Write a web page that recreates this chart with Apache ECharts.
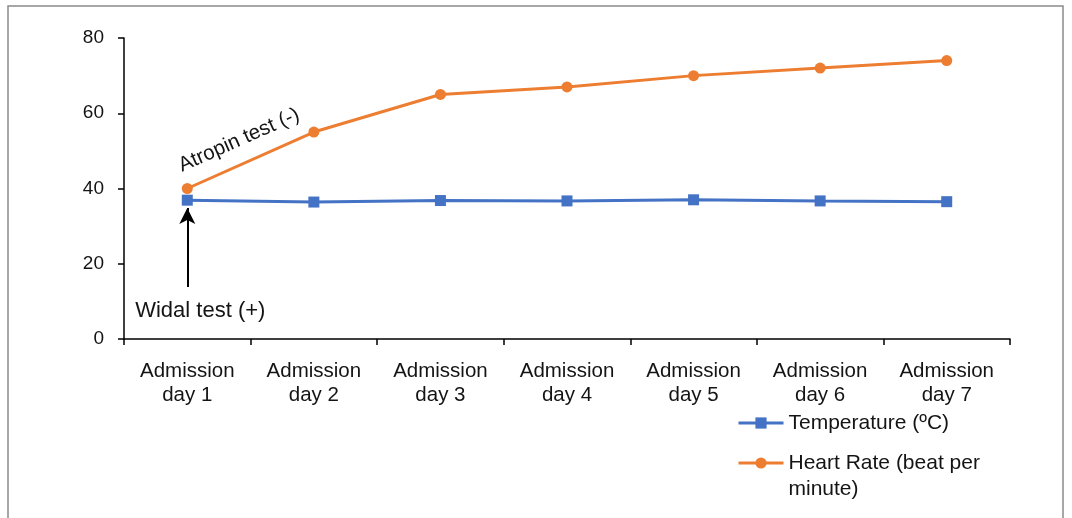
<!DOCTYPE html>
<html>
<head>
<meta charset="utf-8">
<script src="https://cdn.jsdelivr.net/npm/echarts@6/dist/echarts.min.js"></script>
<style>
  html, body { margin: 0; padding: 0; background: #fff; }
  #chart { width: 1072px; height: 518px; }
</style>
</head>
<body>
<div id="chart"></div>
<script>
// Daily observations during admission
const categories = ['Admission\nday 1', 'Admission\nday 2', 'Admission\nday 3', 'Admission\nday 4',
                    'Admission\nday 5', 'Admission\nday 6', 'Admission\nday 7'];
const temperature = [36.9, 36.4, 36.8, 36.7, 37.0, 36.7, 36.5];
const heartRate = [40, 55, 65, 67, 70, 72, 74];
const yTicks = { min: 0, max: 80, interval: 20 };

const TEMP_NAME = 'Temperature (ºC)';
const HR_NAME = 'Heart Rate (beat per minute)';
const FONT = 'Liberation Sans, Arial, sans-serif';
const TEXT = '#141414';

const legendText = { fontFamily: FONT, fontSize: 21, color: TEXT, lineHeight: 24 };
const legendBase = {
  orient: 'vertical',
  left: 732,
  itemWidth: 45,
  itemHeight: 14,
  padding: 5,
  lineStyle: { width: 3 }
};

const chart = echarts.init(document.getElementById('chart'));

chart.setOption({
  animation: false,
  textStyle: { fontFamily: FONT },
  graphic: [{
    type: 'rect',
    shape: { x: 8, y: 6, width: 1055, height: 600 },
    style: { fill: 'none', stroke: '#8a8a8a', lineWidth: 1.5 },
    silent: true
  }],
  grid: { left: 124, right: 62, top: 38, bottom: 179 },
  legend: [
    Object.assign({}, legendBase, {
      top: 406,
      textStyle: legendText,
      data: [TEMP_NAME]
    }),
    Object.assign({}, legendBase, {
      top: 419,
      textStyle: Object.assign({}, legendText, { lineHeight: 26 }),
      data: [HR_NAME],
      // an empty leading line keeps the icon level with the first line of the wrapped name
      formatter: function () { return ' \nHeart Rate (beat per\nminute)'; }
    })
  ],
  xAxis: {
    type: 'category',
    data: categories,
    boundaryGap: true,
    axisLine: { lineStyle: { color: '#000', width: 1.5 } },
    axisTick: { show: true, length: 6, lineStyle: { color: '#000', width: 1.5 } },
    axisLabel: { fontFamily: FONT, fontSize: 20.5, color: TEXT, lineHeight: 24, margin: 20 }
  },
  yAxis: {
    type: 'value',
    min: yTicks.min,
    max: yTicks.max,
    interval: yTicks.interval,
    splitLine: { show: false },
    axisLine: { show: true, lineStyle: { color: '#000', width: 1.5 } },
    axisTick: { show: true, length: 6, lineStyle: { color: '#000', width: 1.5 } },
    axisLabel: { fontFamily: FONT, fontSize: 19, color: TEXT, margin: 20 }
  },
  series: [
    {
      name: HR_NAME,
      type: 'line',
      data: heartRate,
      symbol: 'circle',
      symbolSize: 11,
      color: '#ED7D31',
      lineStyle: { width: 3 },
      z: 2,
      markPoint: {
        symbol: 'circle',
        symbolSize: 0,
        data: [{
          coord: [0, heartRate[0]],
          label: {
            show: true,
            formatter: 'Atropin test (-)',
            fontFamily: FONT,
            fontSize: 20.5,
            color: TEXT,
            rotate: 24,
            offset: [67, -23]
          }
        }]
      }
    },
    {
      name: TEMP_NAME,
      type: 'line',
      data: temperature,
      symbol: 'rect',
      symbolSize: 11,
      color: '#4472C4',
      lineStyle: { width: 3 },
      z: 3,
      markLine: {
        silent: true,
        symbol: ['none', 'arrow'],
        symbolSize: [12, 16],
        lineStyle: { color: '#000', width: 2, type: 'solid' },
        label: { show: false },
        data: [[{ coord: [0, 13.8] }, { coord: [0, 34.8] }]]
      },
      markPoint: {
        symbol: 'circle',
        symbolSize: 0,
        data: [{
          coord: [0, 7.5],
          label: {
            show: true,
            formatter: 'Widal test (+)',
            fontFamily: FONT,
            fontSize: 22,
            color: TEXT,
            offset: [13, 0]
          }
        }]
      }
    }
  ]
});
</script>
</body>
</html>
